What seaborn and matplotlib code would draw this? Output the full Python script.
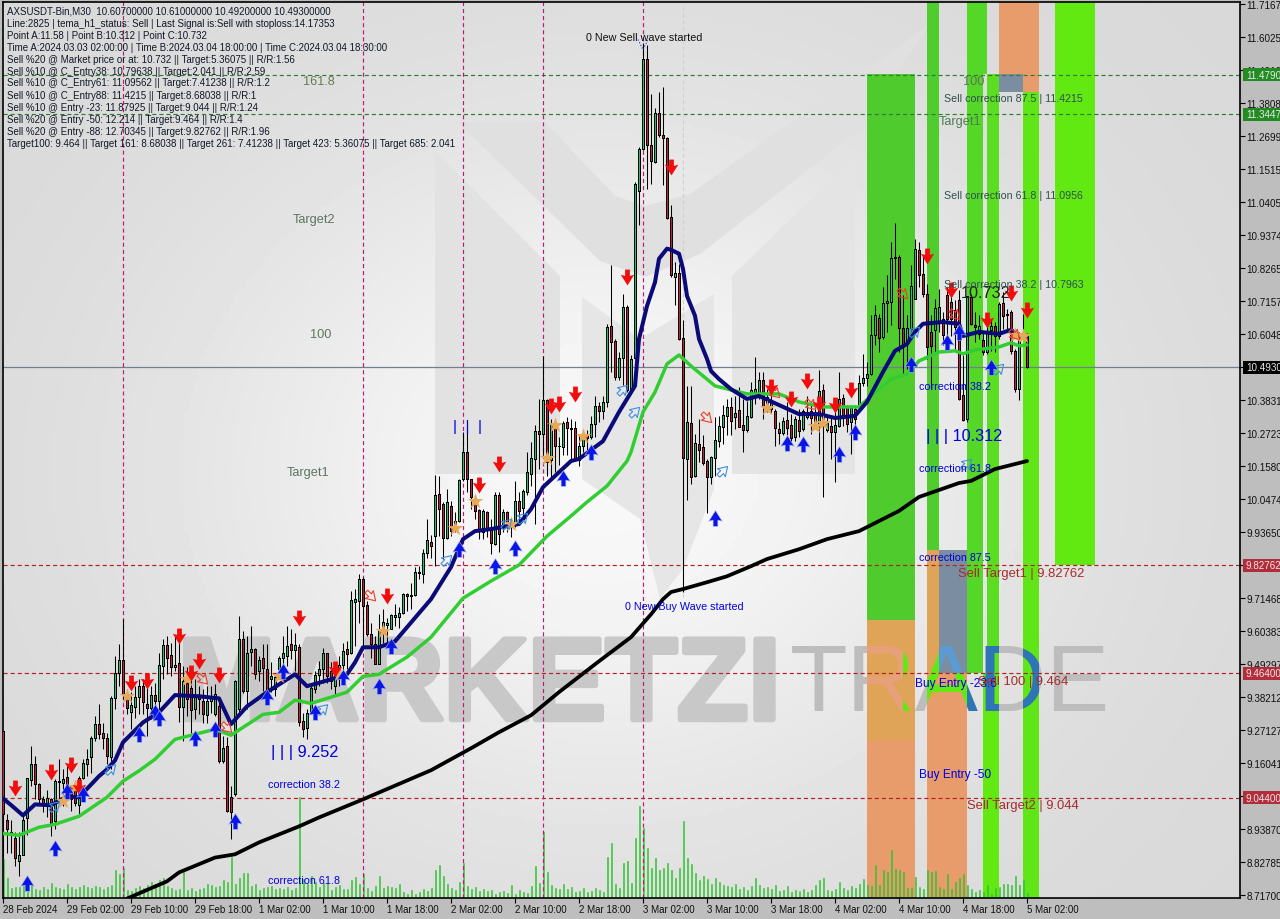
import numpy as np
import seaborn as sns
import matplotlib.pyplot as plt
from matplotlib.patches import Polygon, Rectangle
from matplotlib.path import Path
from matplotlib.transforms import Affine2D
import matplotlib.patheffects as pe

opens = [9.27, 8.97, 8.93, 8.91, 8.83, 8.85, 8.975, 9.105, 9.157, 9.09,
         9.04, 9.02, 9.04, 8.966, 9.098, 9.093, 9.115, 9.084, 9.084, 9.02,
         9.112, 9.157, 9.18, 9.244, 9.294, 9.264, 9.247, 9.183, 9.38, 9.463,
         9.507, 9.376, 9.333, 9.351, 9.385, 9.419, 9.361, 9.348, 9.392, 9.37,
         9.488, 9.56, 9.524, 9.483, 9.497, 9.351, 9.432, 9.415, 9.342, 9.387,
         9.37, 9.323, 9.37, 9.325, 9.354, 9.169, 9.217, 9.048, 9.056, 9.342,
         9.58, 9.404, 9.535, 9.546, 9.471, 9.514, 9.479, 9.443, 9.41, 9.477,
         9.516, 9.52, 9.561, 9.542, 9.553, 9.303, 9.28, 9.331, 9.41, 9.458,
         9.479, 9.531, 9.471, 9.42, 9.455, 9.491, 9.544, 9.531, 9.705, 9.707,
         9.782, 9.692, 9.595, 9.561, 9.496, 9.612, 9.625, 9.612, 9.654, 9.654,
         9.666, 9.732, 9.722, 9.726, 9.8, 9.797, 9.868, 9.907, 9.924, 10.067,
         10.034, 9.918, 10.028, 9.944, 9.975, 10.116, 10.208, 10.116, 10.053, 10.012,
         9.938, 10.006, 9.947, 9.899, 10.064, 9.955, 10.006, 9.955, 9.972, 10.043,
         10.019, 10.075, 10.135, 10.185, 10.279, 10.27, 10.382, 10.183, 10.302, 10.227,
         10.225, 10.309, 10.287, 10.289, 10.18, 10.228, 10.27, 10.258, 10.302, 10.363,
         10.348, 10.377, 10.633, 10.581, 10.461, 10.525, 10.697, 10.41, 10.525, 11.086,
         11.228, 11.53, 11.241, 11.185, 11.35, 11.277, 11.266, 10.998, 10.798, 10.812,
         10.592, 10.185, 10.305, 10.129, 10.236, 10.224, 10.179, 10.123, 10.187, 10.247,
         10.293, 10.329, 10.359, 10.325, 10.35, 10.3, 10.282, 10.325, 10.41, 10.393,
         10.452, 10.393, 10.353, 10.348, 10.286, 10.273, 10.317, 10.3, 10.258, 10.317,
         10.286, 10.325, 10.348, 10.337, 10.297, 10.417, 10.284, 10.297, 10.277, 10.297,
         10.389, 10.359, 10.311, 10.353, 10.365, 10.442, 10.457, 10.472, 10.601, 10.659,
         10.595, 10.711, 10.713, 10.861, 10.865, 10.626, 10.578, 10.623, 10.724, 10.887,
         10.809, 10.741, 10.612, 10.618, 10.651, 10.657, 10.736, 10.713, 10.685, 10.719,
         10.399, 10.32, 10.73, 10.637, 10.607, 10.584, 10.545, 10.618, 10.632, 10.6,
         10.711, 10.674, 10.68, 10.55, 10.419, 10.6, 10.607]
highs = [9.27, 8.99, 8.97, 8.93, 8.93, 8.99, 9.11, 9.22, 9.185, 9.095,
         9.05, 9.07, 9.045, 9.107, 9.174, 9.14, 9.15, 9.084, 9.09, 9.118,
         9.174, 9.208, 9.253, 9.32, 9.36, 9.297, 9.264, 9.387, 9.522, 9.561,
         9.646, 9.41, 9.4, 9.421, 9.443, 9.443, 9.415, 9.421, 9.432, 9.533,
         9.578, 9.59, 9.567, 9.59, 9.584, 9.488, 9.483, 9.443, 9.443, 9.421,
         9.41, 9.421, 9.421, 9.427, 9.37, 9.253, 9.25, 9.084, 9.44, 9.657,
         9.606, 9.59, 9.623, 9.55, 9.522, 9.561, 9.561, 9.5, 9.466, 9.522,
         9.59, 9.621, 9.612, 9.6, 9.561, 9.331, 9.342, 9.432, 9.471, 9.505,
         9.55, 9.533, 9.5, 9.482, 9.522, 9.567, 9.572, 9.741, 9.746, 9.797,
         9.789, 9.707, 9.634, 9.589, 9.662, 9.679, 9.651, 9.662, 9.696, 9.685,
         9.735, 9.735, 9.769, 9.82, 9.825, 9.881, 9.984, 9.93, 10.131, 10.127,
         10.039, 10.084, 10.045, 10.006, 10.118, 10.275, 10.292, 10.118, 10.062, 10.017,
         10.017, 10.011, 9.983, 10.075, 10.075, 10.017, 10.011, 9.983, 10.112, 10.073,
         10.084, 10.208, 10.241, 10.298, 10.387, 10.531, 10.387, 10.32, 10.309, 10.258,
         10.314, 10.326, 10.32, 10.314, 10.27, 10.275, 10.281, 10.331, 10.396, 10.376,
         10.396, 10.64, 10.837, 10.59, 10.545, 10.742, 10.702, 10.534, 11.118, 11.236,
         11.584, 11.578, 11.415, 11.367, 11.419, 11.438, 11.27, 11.039, 10.848, 10.843,
         10.652, 10.432, 10.432, 10.269, 10.32, 10.264, 10.185, 10.196, 10.325, 10.331,
         10.365, 10.387, 10.393, 10.398, 10.426, 10.387, 10.381, 10.443, 10.528, 10.477,
         10.479, 10.421, 10.4, 10.353, 10.309, 10.325, 10.376, 10.337, 10.331, 10.353,
         10.353, 10.398, 10.37, 10.359, 10.483, 10.438, 10.331, 10.331, 10.353, 10.479,
         10.404, 10.367, 10.365, 10.365, 10.466, 10.54, 10.511, 10.668, 10.702, 10.674,
         10.764, 10.803, 10.915, 10.98, 10.87, 10.736, 10.668, 10.837, 10.927, 10.915,
         10.87, 10.775, 10.668, 10.724, 10.758, 10.68, 10.764, 10.736, 10.72, 10.753,
         10.534, 10.732, 10.74, 10.68, 10.668, 10.612, 10.646, 10.657, 10.646, 10.713,
         10.747, 10.691, 10.685, 10.556, 10.612, 10.674, 10.61]
lows = [8.84, 8.86, 8.86, 8.815, 8.78, 8.85, 8.92, 9.085, 9.04, 9.02,
        8.995, 8.98, 8.915, 8.94, 9.04, 9.017, 9.04, 9.0, 9.017, 8.99,
        9.107, 9.118, 9.129, 9.236, 9.241, 9.208, 9.157, 9.14, 9.342, 9.421,
        9.376, 9.325, 9.275, 9.314, 9.325, 9.325, 9.253, 9.309, 9.32, 9.331,
        9.443, 9.46, 9.455, 9.472, 9.3, 9.236, 9.32, 9.264, 9.309, 9.325,
        9.297, 9.297, 9.331, 9.32, 9.16, 9.16, 8.995, 8.907, 9.05, 9.33,
        9.398, 9.342, 9.488, 9.443, 9.438, 9.404, 9.39, 9.4, 9.387, 9.443,
        9.454, 9.488, 9.511, 9.471, 9.286, 9.25, 9.241, 9.325, 9.398, 9.421,
        9.432, 9.432, 9.41, 9.387, 9.42, 9.454, 9.477, 9.527, 9.556, 9.634,
        9.55, 9.589, 9.516, 9.494, 9.494, 9.567, 9.567, 9.612, 9.623, 9.617,
        9.662, 9.673, 9.679, 9.724, 9.78, 9.769, 9.853, 9.85, 9.826, 9.927,
        9.848, 9.916, 9.927, 9.938, 9.972, 10.112, 10.073, 10.017, 9.983, 9.916,
        9.916, 9.921, 9.865, 9.896, 9.871, 9.938, 9.938, 9.921, 9.955, 9.972,
        9.983, 10.062, 10.095, 9.966, 10.152, 10.197, 10.129, 10.124, 10.14, 10.165,
        10.197, 10.197, 10.185, 10.18, 10.16, 10.208, 10.208, 10.253, 10.258, 10.309,
        10.32, 10.36, 10.478, 10.45, 10.45, 10.433, 10.41, 10.405, 10.523, 10.974,
        11.224, 11.095, 11.11, 11.18, 11.27, 11.106, 10.994, 10.798, 10.702, 10.584,
        9.737, 10.048, 10.1, 10.123, 10.174, 10.163, 10.002, 10.101, 10.129, 10.224,
        10.236, 10.264, 10.264, 10.286, 10.292, 10.21, 10.275, 10.322, 10.37, 10.387,
        10.32, 10.342, 10.34, 10.23, 10.236, 10.264, 10.264, 10.247, 10.247, 10.258,
        10.28, 10.32, 10.269, 10.292, 10.202, 10.056, 10.275, 10.185, 10.106, 10.292,
        10.297, 10.275, 10.202, 10.286, 10.35, 10.43, 10.432, 10.466, 10.567, 10.545,
        10.59, 10.612, 10.635, 10.792, 10.545, 10.466, 10.489, 10.612, 10.724, 10.764,
        10.73, 10.522, 10.421, 10.545, 10.612, 10.567, 10.545, 10.6, 10.55, 10.382,
        10.312, 10.31, 10.635, 10.58, 10.59, 10.534, 10.54, 10.55, 10.545, 10.59,
        10.623, 10.612, 10.54, 10.41, 10.382, 10.595, 10.492]
closes = [8.99, 8.94, 8.925, 8.84, 8.85, 8.97, 9.11, 9.157, 9.09, 9.04,
          9.02, 9.045, 8.96, 9.10, 9.102, 9.109, 9.084, 9.04, 9.026, 9.112,
          9.163, 9.176, 9.244, 9.294, 9.258, 9.247, 9.185, 9.38, 9.466, 9.507,
          9.393, 9.345, 9.358, 9.385, 9.419, 9.368, 9.348, 9.392, 9.37, 9.49,
          9.56, 9.516, 9.483, 9.492, 9.351, 9.438, 9.376, 9.34, 9.387, 9.376,
          9.325, 9.37, 9.382, 9.395, 9.169, 9.213, 9.0, 8.997, 9.438, 9.578,
          9.404, 9.533, 9.546, 9.46, 9.508, 9.482, 9.404, 9.455, 9.452, 9.514,
          9.531, 9.556, 9.542, 9.558, 9.3, 9.277, 9.331, 9.415, 9.458, 9.479,
          9.531, 9.454, 9.438, 9.466, 9.49, 9.538, 9.527, 9.709, 9.713, 9.782,
          9.69, 9.595, 9.561, 9.496, 9.609, 9.636, 9.634, 9.659, 9.659, 9.666,
          9.732, 9.722, 9.726, 9.803, 9.803, 9.87, 9.911, 9.893, 10.062, 10.017,
          9.918, 10.039, 9.944, 9.975, 10.113, 10.208, 10.118, 10.056, 10.011, 9.941,
          10.009, 9.95, 9.902, 10.062, 9.933, 10.006, 9.972, 9.978, 10.043, 10.011,
          10.076, 10.14, 10.188, 10.279, 10.27, 10.384, 10.176, 10.302, 10.228, 10.23,
          10.307, 10.289, 10.289, 10.185, 10.228, 10.264, 10.255, 10.302, 10.363, 10.345,
          10.376, 10.629, 10.579, 10.461, 10.525, 10.697, 10.416, 10.523, 11.112, 11.227,
          11.53, 11.241, 11.187, 11.35, 11.275, 11.266, 10.996, 10.803, 10.812, 10.588,
          10.189, 10.311, 10.123, 10.238, 10.216, 10.172, 10.123, 10.191, 10.249, 10.295,
          10.333, 10.359, 10.312, 10.34, 10.294, 10.284, 10.329, 10.417, 10.421, 10.452,
          10.362, 10.353, 10.38, 10.288, 10.273, 10.312, 10.288, 10.255, 10.32, 10.28,
          10.345, 10.342, 10.322, 10.297, 10.413, 10.3, 10.305, 10.277, 10.3, 10.387,
          10.333, 10.303, 10.356, 10.32, 10.442, 10.457, 10.472, 10.601, 10.668, 10.592,
          10.711, 10.716, 10.861, 10.865, 10.626, 10.57, 10.626, 10.766, 10.891, 10.805,
          10.741, 10.562, 10.564, 10.693, 10.696, 10.601, 10.657, 10.657, 10.63, 10.388,
          10.315, 10.732, 10.64, 10.63, 10.632, 10.545, 10.614, 10.632, 10.6, 10.708,
          10.666, 10.671, 10.547, 10.421, 10.607, 10.61, 10.493]
volume = [39, 20, 10, 11, 11, 13, 6, 13, 9, 8, 11, 9, 15, 11, 10, 9, 14, 11, 9, 11,
          13, 11, 10, 12, 11, 9, 11, 13, 28, 24, 30, 8, 7, 10, 12, 10, 13, 16, 14, 18,
          20, 12, 10, 8, 9, 26, 8, 10, 7, 9, 10, 14, 13, 11, 12, 18, 16, 41, 14, 20,
          25, 25, 12, 14, 8, 10, 11, 12, 9, 10, 9, 11, 8, 10, 101, 19, 14, 22, 16, 11,
          15, 14, 8, 11, 13, 9, 9, 18, 21, 14, 24, 10, 7, 12, 22, 10, 12, 11, 10, 14,
          6, 4, 8, 4, 6, 9, 7, 10, 28, 33, 22, 14, 10, 8, 16, 35, 12, 9, 11, 7,
          9, 7, 8, 4, 6, 7, 5, 13, 4, 8, 6, 5, 12, 32, 15, 66, 26, 13, 10, 9,
          14, 9, 11, 6, 7, 10, 6, 7, 10, 8, 6, 41, 55, 14, 10, 35, 37, 15, 60, 92,
          70, 50, 30, 40, 28, 30, 35, 28, 20, 30, 77, 40, 34, 25, 18, 22, 19, 14, 20, 16,
          13, 12, 11, 14, 9, 11, 8, 12, 20, 13, 10, 11, 9, 13, 7, 8, 12, 6, 8, 7,
          9, 6, 8, 13, 18, 20, 8, 7, 9, 16, 10, 8, 12, 10, 14, 19, 13, 12, 33, 13,
          28, 26, 48, 29, 28, 26, 10, 10, 21, 11, 9, 28, 26, 27, 11, 9, 24, 9, 16, 20,
          24, 13, 9, 6, 8, 6, 13, 4, 10, 11, 14, 14, 13, 22, 13, 18, 5]
bar_index = np.arange(len(opens))

blue_idx = [0, 2, 5, 8, 12, 16, 19, 24, 26, 28, 30, 35, 39, 43, 49, 54, 57, 61, 66, 73, 76, 82, 86, 88, 90, 94, 98,
            107, 112, 115, 118, 122, 129, 132, 135, 142, 144, 150, 154, 158, 159, 161, 163, 164, 166, 167, 169, 170,
            171, 173, 174, 176, 177, 179, 182, 186, 189, 199, 204, 208, 213, 216, 220, 223, 226, 228, 230, 235, 239,
            240, 244, 249, 252, 254, 256]
blue_val = [9.042, 9.02, 8.985, 9.022, 9.019, 9.049, 9.046, 9.117, 9.14, 9.17, 9.231, 9.298, 9.332, 9.39, 9.386,
            9.379, 9.292, 9.352, 9.4, 9.46, 9.42, 9.443, 9.46, 9.5, 9.551, 9.551, 9.571,
            9.713, 9.821, 9.915, 9.942, 9.949, 9.966, 10.016, 10.09, 10.178, 10.185, 10.245, 10.343, 10.431, 10.589,
            10.70, 10.78, 10.859, 10.893, 10.889, 10.876, 10.825,
            10.734, 10.667, 10.589, 10.522, 10.481, 10.454, 10.42, 10.387, 10.397, 10.336, 10.336, 10.323, 10.33,
            10.377, 10.478, 10.549, 10.572, 10.613, 10.64, 10.646, 10.64,
            10.599, 10.613, 10.606, 10.62, 10.599, 10.599]
green_idx = [0, 4, 9, 13, 19, 26, 30, 34, 38, 43, 53, 57, 65, 69, 73, 77, 86, 90, 94, 101, 107, 115, 122, 129,
             136, 142, 146, 151, 156, 157, 160, 163, 166, 169, 172, 178, 186, 194, 199, 205, 209, 214, 217, 222,
             226, 229, 234, 238, 240, 243, 249, 252, 254, 256]
green_val = [8.924, 8.918, 8.945, 8.955, 8.982, 9.046, 9.1, 9.135, 9.174, 9.241, 9.275, 9.255, 9.325, 9.332, 9.373,
             9.362, 9.4, 9.453, 9.46, 9.518, 9.585, 9.716, 9.774, 9.828, 9.925, 9.993, 10.04, 10.094, 10.178,
             10.208, 10.343, 10.41, 10.505, 10.535, 10.498, 10.431, 10.404, 10.404, 10.377, 10.36, 10.36, 10.36,
             10.397, 10.454, 10.471, 10.515, 10.545, 10.549, 10.539, 10.552, 10.562, 10.576, 10.566, 10.569]
black_idx = [31, 41, 44, 53, 58, 64, 74, 79, 90, 107, 117, 124, 132, 139, 149, 157, 162, 165, 167, 170, 176,
             181, 187, 191, 199, 206, 214, 224, 229, 239, 242, 248, 256]
black_val = [8.705, 8.763, 8.793, 8.843, 8.854, 8.894, 8.948, 8.978, 9.039, 9.137, 9.211, 9.265, 9.322, 9.4,
             9.504, 9.585, 9.662, 9.713, 9.737, 9.747, 9.77, 9.79, 9.824, 9.848, 9.881, 9.915, 9.942, 10.01,
             10.057, 10.104, 10.111, 10.151, 10.178]

sell_idx = [3, 12, 17, 19, 32, 36, 44, 49, 47, 54, 74, 83, 96, 119, 124, 137, 139, 143, 156, 167, 192, 197,
            201, 204, 208, 212, 231, 237, 246, 252, 256]
sell_val = [9.076, 9.13, 9.154, 9.08, 9.43, 9.437, 9.588, 9.504, 9.464, 9.457, 9.649, 9.477, 9.723, 10.097,
            10.168, 10.363, 10.37, 10.404, 10.798, 11.169, 10.427, 10.387, 10.448, 10.37, 10.367, 10.417,
            10.869, 10.754, 10.653, 10.744, 10.687]
buy_idx = [6, 13, 16, 20, 34, 38, 39, 48, 53, 58, 66, 70, 78, 85, 94, 97, 114, 123, 128, 140, 147, 178, 196,
           200, 209, 213, 227, 236, 239, 247]
buy_val = [8.759, 8.874, 9.066, 9.056, 9.258, 9.332, 9.312, 9.245, 9.275, 8.965, 9.383, 9.47, 9.332, 9.45,
           9.42, 9.555, 9.881, 9.824, 9.885, 10.121, 10.208, 9.986, 10.239, 10.235, 10.202, 10.276, 10.505,
           10.579, 10.613, 10.495]
star_idx = [15, 18, 31, 46, 69, 84, 95, 113, 118, 127, 136, 138, 145, 191, 203, 205, 253, 255]
star_val = [9.032, 9.08, 9.386, 9.443, 9.453, 9.46, 9.605, 9.952, 10.043, 9.966, 10.188, 10.299, 10.262,
            10.357, 10.296, 10.306, 10.603, 10.599]
hollow_up_idx = [13, 27, 80, 111, 126, 130, 155, 158, 180, 228, 241, 249]
hollow_up_val = [9.015, 9.14, 9.342, 9.844, 9.966, 9.986, 10.417, 10.343, 10.144, 10.613, 10.168, 10.488]
hollow_dn_idx = [50, 56, 92, 176, 193, 202, 225, 238, 253]
hollow_dn_val = [9.443, 9.28, 9.723, 10.323, 10.407, 10.367, 10.74, 10.67, 10.603]

zone_left = [216, 216, 216, 231, 231, 231, 234, 234, 241, 241, 246, 245, 249, 249, 255, 255, 263]
zone_right = [228, 228, 228, 234, 234, 234, 241, 241, 246, 245, 249, 249, 259, 255, 259, 259, 273]
zone_low = [9.642, 9.24, 8.7, 9.878, 9.38, 8.7, 9.464, 8.7, 11.48, 9.464, 9.464, 8.7, 11.48, 11.42, 11.42, 8.7, 9.82762]
zone_high = [11.48, 9.642, 9.24, 11.73, 9.878, 9.38, 9.878, 9.464, 11.73, 11.48, 11.48, 9.464, 11.73, 11.48, 11.48, 11.42, 11.73]
zone_color = ['#50CB2E', '#DFA458', '#E89B6B', '#50CD2E', '#DFA458', '#E89B6B', '#7B8DA0', '#E89B6B', '#55D728',
              '#55D728', '#5BDD22', '#62E912', '#E89B6B', '#7B8DA0', '#E89B6B', '#60E616', '#62E912']

hline_red = [9.82762, 9.464, 9.044]
hline_green = [11.479, 11.3447]
last_price = 10.493
vline_idx = [30, 90, 115, 135, 160]
wave_idx = 170

y_labels = ['11.71670', '11.60250', '11.49190', '11.38084', '11.26995', '11.15150', '11.04050', '10.93740',
            '10.82650', '10.71570', '10.60480', '10.49390', '10.38310', '10.27230', '10.15800', '10.04740',
            '9.93650', '9.82560', '9.71468', '9.60383', '9.49297', '9.38212', '9.27127', '9.16041', '9.04955',
            '8.93870', '8.82785', '8.71700']
x_labels = ['28 Feb 2024', '29 Feb 02:00', '29 Feb 10:00', '29 Feb 18:00', '1 Mar 02:00', '1 Mar 10:00',
            '1 Mar 18:00', '2 Mar 02:00', '2 Mar 10:00', '2 Mar 18:00', '3 Mar 02:00', '3 Mar 10:00',
            '3 Mar 18:00', '4 Mar 02:00', '4 Mar 10:00', '4 Mar 18:00', '5 Mar 02:00']
box_labels = ['11.47900', '11.34470', '10.49300', '9.82762', '9.46400', '9.04400']
box_prices = [11.479, 11.3447, 10.493, 9.82762, 9.464, 9.044]
box_colors = ['#228B22', '#228B22', '#000000', '#B22C3A', '#B22C3A', '#B22C3A']

header = ['AXSUSDT-Bin,M30  10.60700000 10.61000000 10.49200000 10.49300000',
          'Line:2825 | tema_h1_status: Sell | Last Signal is:Sell with stoploss:14.17353',
          'Point A:11.58 | Point B:10.312 | Point C:10.732',
          'Time A:2024.03.03 02:00:00 | Time B:2024.03.04 18:00:00 | Time C:2024.03.04 18:30:00',
          'Sell %20 @ Market price or at: 10.732 || Target:5.36075 || R/R:1.56',
          'Sell %10 @ C_Entry38: 10.79638 || Target:2.041 || R/R:2.59',
          'Sell %10 @ C_Entry61: 11.09562 || Target:7.41238 || R/R:1.2',
          'Sell %10 @ C_Entry88: 11.4215 || Target:8.68038 || R/R:1',
          'Sell %10 @ Entry -23: 11.87925 || Target:9.044 || R/R:1.24',
          'Sell %20 @ Entry -50: 12.214 || Target:9.464 || R/R:1.4',
          'Sell %20 @ Entry -88: 12.70345 || Target:9.82762 || R/R:1.96',
          'Target100: 9.464 || Target 161: 8.68038 || Target 261: 7.41238 || Target 423: 5.36075 || Target 685: 2.041']

# text, left x px, centre y px, size, colour
labels = [('161.8', 303, 82, 9.2, '#6A7A50'), ('100', 310, 335, 9.2, '#5F7460'), ('Target2', 293, 220, 9.2, '#5F7460'),
          ('Target1', 287, 473, 9.2, '#5F7460'), ('100', 963, 82, 9.2, '#5F7460'), ('Target1', 939, 122, 9.2, '#4F7A50'),
          ('0 New Sell wave started', 586, 38, 7.75, '#101010'), ('0 New Buy Wave started', 625, 607, 7.75, '#0000E0'),
          ('| | | 9.252', 271, 752, 11.7, '#0000E0'), ('| | | 10.312', 926, 437, 11.7, '#0000E0'),
          ('|  |  |', 453, 427, 11, '#0000E0'), ('10.732', 961, 293, 11.7, '#202020'),
          ('correction 38.2', 268, 785, 7.75, '#0000E0'), ('correction 61.8', 268, 881, 7.75, '#0000E0'),
          ('correction 38.2', 919, 387, 7.75, '#0000E0'), ('correction 61.8', 919, 469, 7.75, '#0000E0'),
          ('correction 87.5', 919, 558, 7.75, '#0000E0'), ('Buy Entry -23.6', 915, 684, 8.6, '#0000E0'),
          ('Buy Entry -50', 919, 775, 8.6, '#0000E0'), ('Sell 100 | 9.464', 978, 682, 9.4, '#A52A2A'),
          ('Sell Target1 | 9.82762', 958, 574, 9.4, '#A52A2A'), ('Sell Target2 | 9.044', 967, 806, 9.4, '#A52A2A'),
          ('Sell correction 87.5 | 11.4215', 944, 99, 7.7, '#2F4F4F'),
          ('Sell correction 61.8 | 11.0956', 944, 196, 7.7, '#2F4F4F'),
          ('Sell correction 38.2 | 10.7963', 944, 285, 7.7, '#2F4F4F')]

sns.set_theme(style='white')
plt.rcParams['font.family'] = ['Liberation Sans', 'DejaVu Sans']

fig = plt.figure(figsize=(12.8, 9.2), dpi=100, facecolor='#BEBEBE')
rect = [3 / 1280, 1 - 899 / 920, 1237 / 1280, 896 / 920]
ax_bg = fig.add_axes(rect, zorder=0)
ax_vol = fig.add_axes(rect, zorder=1)
ax = fig.add_axes(rect, zorder=2)
x_lim = (0, 309.25)
y_lim = (8.7069, 11.7234)


def fx(px):
    return px / 1280


def fy(py):
    return 1 - py / 920


# fondo con degradado
gx, gy = np.meshgrid(np.linspace(0, 1237, 300), np.linspace(0, 896, 220))
shade = 216 + 32 * np.exp(-((gx - 600) / 430) ** 2 - ((gy - 470) / 360) ** 2)
ax_bg.imshow(shade, cmap='gray', vmin=0, vmax=255, extent=(*x_lim, *y_lim), aspect='auto', zorder=0)

# logo de fondo
logo = [([(435, 152), (560, 277), (560, 475), (435, 475)], '#E2E2E2'),
        ([(732, 277), (855, 158), (855, 475), (732, 475)], '#E4E4E4'),
        ([(582, 298), (640, 340), (714, 295), (714, 490), (683, 570), (660, 600), (640, 520), (582, 480)], '#E6E6E6'),
        ([(458, 123), (545, 123), (615, 197), (645, 207), (690, 195), (860, 75), (930, 25), (860, 130), (700, 255),
          (645, 278), (600, 262)], '#E0E0E0')]
for pts, col in logo:
    ax_bg.add_patch(Polygon([(fx(a), fy(b)) for a, b in pts], closed=True, transform=fig.transFigure,
                            facecolor=col, edgecolor='none', zorder=0.5))

brand = ax_bg.text(fx(178), fy(690), 'MARKETZI', transform=fig.transFigure, fontsize=84, fontweight='bold',
                   color='#C8C8C8', ha='left', va='center', zorder=1)
brand.set_path_effects([pe.withStroke(linewidth=4, foreground='#C8C8C8')])
ax_bg.text(fx(790), fy(687), 'TRADE', transform=fig.transFigure, fontsize=68, color='#BDBDBD',
           ha='left', va='center', zorder=1)

for l, r, lo, hi, c in zip(zone_left, zone_right, zone_low, zone_high, zone_color):
    ax_bg.add_patch(Rectangle((l, lo), r - l, hi - lo, facecolor=c, edgecolor='none', zorder=1.5))

# copias del logo recortadas sobre las zonas
for l, r, lo, hi, c in [(216, 225, 8.7, 9.642, '#E8A07A'), (225, 228, 8.7, 9.642, '#62E912'),
                        (231, 234, 8.7, 9.878, '#62E912'), (234, 241, 9.464, 9.878, '#5B9BD5'),
                        (234, 241, 8.7, 9.464, '#62E912'), (241, 249, 8.7, 11.5, '#2E75B6'),
                        (255, 259, 8.7, 11.42, '#2E75B6')]:
    t = ax_bg.text(fx(790), fy(687), 'TRADE', transform=fig.transFigure, fontsize=68, color=c,
                   ha='left', va='center', zorder=1.6)
    t.set_clip_path(Rectangle((l, lo), r - l, hi - lo, transform=ax_bg.transData))
    t.set_clip_on(True)
ax_bg.set_xlim(*x_lim)
ax_bg.set_ylim(*y_lim)
ax_bg.axis('off')

# volumen
sns.barplot(x=bar_index, y=volume, native_scale=True, color='#35C235', saturation=1, width=0.25,
            errorbar=None, ax=ax_vol)
for bar in ax_vol.patches:
    bar.set_facecolor('#35C235')
    bar.set_edgecolor('#35C235')
    bar.set_linewidth(0.4)
ax_vol.set_xlim(*x_lim)
ax_vol.set_ylim(0, 896)
ax_vol.axis('off')

# capa principal
ax.patch.set_alpha(0)
for p in hline_red:
    ax.axhline(p, color='#B22222', lw=0.85, ls=(0, (3.5, 2.5)), zorder=2)
for p in hline_green:
    ax.axhline(p, color='#2E7D32', lw=0.85, ls=(0, (3.5, 2.5)), zorder=2)
ax.axhline(last_price, color='#708090', lw=0.9, zorder=2)
for v in vline_idx:
    ax.axvline(v, color='#C0187A', lw=0.85, ls=(0, (3.5, 2.5)), zorder=2)
ax.plot([wave_idx, wave_idx], [9.72, 11.72], color='#D0D0D0', lw=0.8, ls=(0, (3.5, 2.5)), zorder=2)

# velas
o = np.array(opens)
c = np.array(closes)
ax.vlines(bar_index, lows, highs, color='black', lw=0.75, zorder=3)
ax.bar(bar_index, np.maximum(np.abs(c - o), 0.002), bottom=np.minimum(o, c), width=0.7,
       color=np.where(c >= o, '#14C87A', '#C41E3C'), edgecolor='black', linewidth=0.72, antialiased=False, zorder=3.2)

sns.lineplot(x=black_idx, y=black_val, color='black', linewidth=2.7, errorbar=None, ax=ax, zorder=4)
sns.lineplot(x=green_idx, y=green_val, color='#32CD32', linewidth=2.5, errorbar=None, ax=ax, zorder=4.1)
sns.lineplot(x=blue_idx, y=blue_val, color='#0A0A78', linewidth=2.9, errorbar=None, ax=ax, zorder=4.2)

# marcadores
arrow_dn = Path([(-.3, 1), (.3, 1), (.3, .2), (.85, .35), (0, -1), (-.85, .35), (-.3, .2), (-.3, 1)], closed=True)
arrow_up = arrow_dn.transformed(Affine2D().scale(1, -1))
hollow_up = arrow_up.transformed(Affine2D().rotate_deg(-45))
hollow_dn = arrow_dn.transformed(Affine2D().rotate_deg(45))
sns.scatterplot(x=star_idx, y=star_val, marker='*', s=140, color='#E8A85A', linewidth=0, ax=ax, zorder=5)
sns.scatterplot(x=hollow_up_idx, y=hollow_up_val, marker=hollow_up, s=75, facecolor='none', edgecolor='#3F8FE0',
                linewidth=0.8, ax=ax, zorder=5)
sns.scatterplot(x=hollow_dn_idx, y=hollow_dn_val, marker=hollow_dn, s=75, facecolor='none', edgecolor='#E8402A',
                linewidth=0.8, ax=ax, zorder=5)
sns.scatterplot(x=sell_idx, y=sell_val, marker=arrow_dn, s=130, color='#F20D0D', linewidth=0, ax=ax, zorder=5.2)
sns.scatterplot(x=buy_idx, y=buy_val, marker=arrow_up, s=130, color='#0A14E6', edgecolor='#A8C0F0', linewidth=0.4,
                ax=ax, zorder=5.2)
ax.plot([158.75, 160, 161.25], [11.597, 11.563, 11.597], color='#1030E0', lw=0.8, ls=':', zorder=5)

ax.set_xlim(*x_lim)
ax.set_ylim(*y_lim)
ax.set_xlabel('')
ax.set_ylabel('')
ax.yaxis.tick_right()
ax.set_yticks(np.linspace(11.7167, 8.717, len(y_labels)))
ax.set_yticklabels(y_labels, fontsize=7.1, color='#101010')
ax.set_xticks(np.arange(len(x_labels)) * 16)
ax.set_xticklabels(x_labels, fontsize=7, color='#101010', ha='left')
ax.tick_params(axis='both', length=3.5, width=0.8, color='black', pad=1, bottom=True, right=True)
ax.tick_params(axis='x', pad=0.5)
for s in ax.spines.values():
    s.set_color('black')
    s.set_linewidth(1.2)

# cajas de precio a la derecha
for p, lab, col in zip(box_prices, box_labels, box_colors):
    trans = ax.get_yaxis_transform()
    ax.add_patch(Rectangle((1.0024, p - 0.022), 0.04, 0.044, transform=trans, facecolor=col, edgecolor='none',
                           clip_on=False, zorder=6))
    ax.text(1.0048, p, lab, transform=trans, fontsize=7.1, color='#E8E8E8', va='center', ha='left',
            clip_on=False, zorder=7)

# textos
y = [11, 24, 36, 48, 60, 72, 83, 96, 108, 120, 132, 144]
for i, line in enumerate(header):
    fig.text(fx(7), fy(y[i]), line, fontsize=7.05, color='#101828', va='center', ha='left')
for txt, px, py, size, col in labels:
    fig.text(fx(px), fy(py), txt, fontsize=size, color=col, va='center', ha='left')

fig.savefig('out.png', dpi=100, facecolor=fig.get_facecolor())
